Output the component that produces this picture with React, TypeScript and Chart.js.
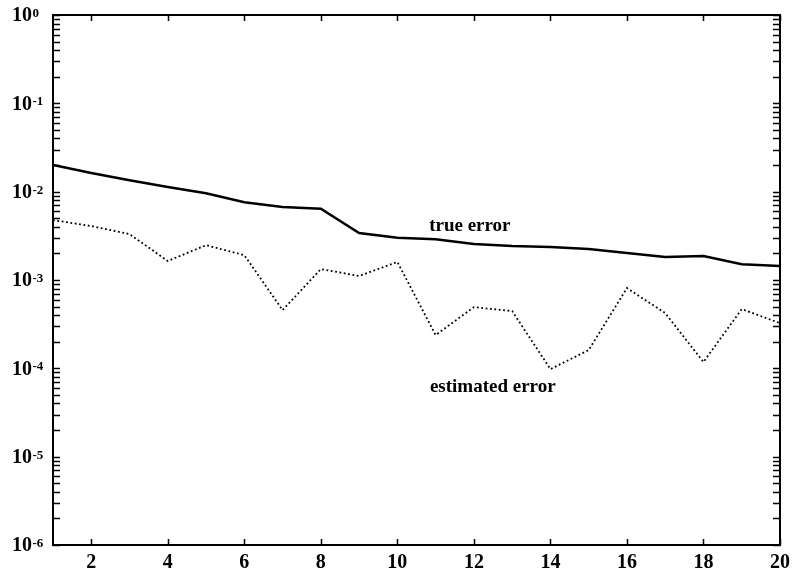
import React, { useEffect, useRef } from "react";
import { Chart, registerables } from "chart.js";

Chart.register(...registerables);

const iterations = [1, 2, 3, 4, 5, 6, 7, 8, 9, 10, 11, 12, 13, 14, 15, 16, 17, 18, 19, 20];
const trueError = [0.0200, 0.0163, 0.0135, 0.0113, 0.0096, 0.0076, 0.0067, 0.0064, 0.0034, 0.0030,
  0.0029, 0.00255, 0.00242, 0.00236, 0.00224, 0.00202, 0.00182, 0.00187, 0.00151, 0.00144];
const estimatedError = [0.00477, 0.00408, 0.00331, 0.00164, 0.00248, 0.00191, 0.000456, 0.00133, 0.00111, 0.00160,
  0.000238, 0.000493, 0.000445, 0.000098, 0.000161, 0.00081, 0.000422, 0.000118, 0.000468, 0.000325];
const xTicks = [2, 4, 6, 8, 10, 12, 14, 16, 18, 20];
const yExponents = [0, -1, -2, -3, -4, -5, -6];
const annotationTexts = ["true error", "estimated error"];
const annotationX = [10.83, 10.85];
const annotationY = [0.00358, 0.000054];

const SERIF = "'Liberation Serif', 'DejaVu Serif', serif";

const framePlugin = {
  id: "framePlugin",
  afterDraw(chart: any) {
    const ctx = chart.ctx as CanvasRenderingContext2D;
    const { left, right, top, bottom } = chart.chartArea;
    const xs = chart.scales.x;
    const ys = chart.scales.y;
    ctx.save();
    ctx.strokeStyle = "#000";
    ctx.fillStyle = "#000";
    // frame
    ctx.lineWidth = 2;
    ctx.strokeRect(left, top, right - left, bottom - top);
    // x ticks (inward, top and bottom)
    ctx.lineWidth = 1.5;
    ctx.beginPath();
    for (const t of xTicks) {
      const px = Math.round(xs.getPixelForValue(t)) + 0.5;
      ctx.moveTo(px, bottom);
      ctx.lineTo(px, bottom - 6);
      ctx.moveTo(px, top);
      ctx.lineTo(px, top + 6);
    }
    // y minor/major ticks (inward, left and right)
    for (let e = -6; e <= 0; e++) {
      for (let m = 1; m <= 9; m++) {
        const v = m * Math.pow(10, e);
        if (v > 1.0000001) continue;
        const py = Math.round(ys.getPixelForValue(v)) + 0.5;
        const len = 7;
        ctx.moveTo(left, py);
        ctx.lineTo(left + len, py);
        ctx.moveTo(right, py);
        ctx.lineTo(right - len, py);
      }
    }
    ctx.stroke();

    // x tick labels
    ctx.font = `bold 20px ${SERIF}`;
    ctx.textAlign = "center";
    ctx.textBaseline = "middle";
    for (const t of xTicks) {
      ctx.fillText(String(t), xs.getPixelForValue(t), bottom + 18);
    }
    // y tick labels: 10 with superscript exponent
    for (const e of yExponents) {
      const py = ys.getPixelForValue(Math.pow(10, e));
      ctx.font = `bold 20px ${SERIF}`;
      ctx.textAlign = "left";
      ctx.textBaseline = "middle";
      const baseX = 12;
      ctx.fillText("10", baseX, py + 1);
      const w = ctx.measureText("10").width;
      ctx.font = `bold 13px ${SERIF}`;
      ctx.textBaseline = "top";
      ctx.fillText(String(e), baseX + w + 0.5, py - 8);
    }

    // annotations
    ctx.font = `bold 19px ${SERIF}`;
    ctx.textAlign = "left";
    ctx.textBaseline = "alphabetic";
    annotationTexts.forEach((txt, i) => {
      ctx.fillText(txt, xs.getPixelForValue(annotationX[i]), ys.getPixelForValue(annotationY[i]));
    });
    ctx.restore();
  },
};

export default function App() {
  const canvasRef = useRef<HTMLCanvasElement | null>(null);
  useEffect(() => {
    if (!canvasRef.current) return;
    const chart = new Chart(canvasRef.current, {
      type: "line",
      data: {
        labels: iterations,
        datasets: [
          {
            label: "true error",
            data: iterations.map((x, i) => ({ x, y: trueError[i] })),
            borderColor: "#000",
            borderWidth: 2.5,
            pointRadius: 0,
            tension: 0,
            fill: false,
          },
          {
            label: "estimated error",
            data: iterations.map((x, i) => ({ x, y: estimatedError[i] })),
            borderColor: "#000",
            borderWidth: 1.8,
            borderDash: [1.8, 2.6],
            pointRadius: 0,
            tension: 0,
            fill: false,
          },
        ],
      },
      options: {
        responsive: false,
        animation: false,
        layout: { padding: { left: 53, right: 13, top: 15, bottom: 32 } },
        plugins: { legend: { display: false }, tooltip: { enabled: false } },
        scales: {
          x: { type: "linear", min: 1, max: 20, display: false },
          y: { type: "logarithmic", min: 1e-6, max: 1, display: false },
        },
      },
      plugins: [framePlugin],
    });
    return () => chart.destroy();
  }, []);
  return (
    <div style={{ position: "absolute", left: 0, top: 0, width: 793, height: 577, background: "#fff" }}>
      <canvas ref={canvasRef} width={793} height={577} />
    </div>
  );
}
